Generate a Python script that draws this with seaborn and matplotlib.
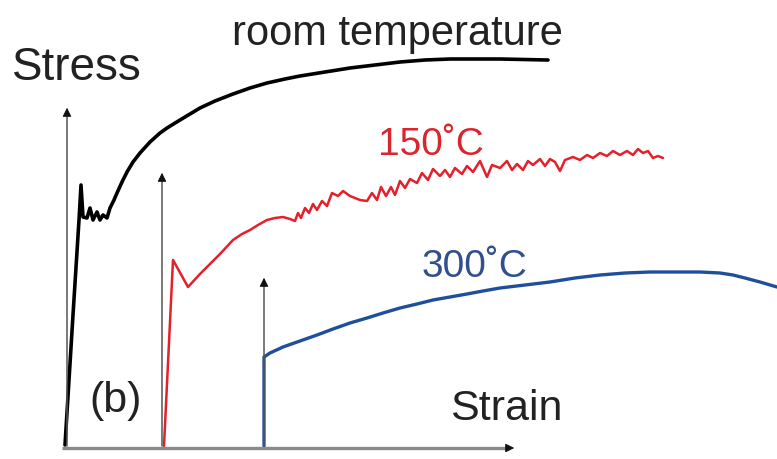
import matplotlib
matplotlib.use("Agg")
import matplotlib.pyplot as plt
import pandas as pd
import seaborn as sns

# schematic stress-strain curves (strain, stress in arbitrary units)
rt_strain = [65, 73, 79, 81, 83, 87, 90, 93, 97, 100, 103, 107, 110, 114, 117, 122, 127, 133,
             140, 150, 160, 167, 180, 190, 200, 215, 233, 250, 267, 285, 300, 325, 350, 375,
             400, 425, 450, 500, 548]
rt_stress = [14, 144, 239, 274, 242, 241, 251, 239, 247, 239, 244, 241, 251, 259, 266, 277, 287, 297,
             306, 317, 326, 331, 339, 345, 351, 358, 365, 371, 376, 380, 383, 387, 391, 394,
             397, 399, 400, 400, 399]

t150_strain = [164, 173, 188, 200, 210, 220, 233, 242, 250, 258, 267, 275, 283, 290, 295, 298,
               301, 305, 309, 313, 317, 322, 327, 332, 338, 343, 350, 360, 367, 372, 377, 381,
               386, 391, 395, 400, 405, 410, 417, 422, 428, 433, 440, 445, 450, 455, 462, 467,
               473, 480, 487, 492, 500, 507, 512, 517, 523, 528, 533, 540, 545, 550, 555, 560,
               565, 573, 580, 587, 593, 600, 607, 613, 620, 627, 633, 638, 643, 648, 653, 658, 663]
t150_stress = [13, 199, 172, 185, 195, 205, 219, 225, 229, 234, 239, 241, 242, 240, 238, 246,
               241, 251, 246, 255, 249, 258, 253, 266, 263, 268, 263, 259, 258, 266, 259, 272,
               263, 272, 264, 278, 271, 280, 276, 286, 279, 290, 283, 289, 282, 291, 285, 293,
               287, 298, 282, 294, 291, 298, 289, 295, 289, 298, 294, 300, 293, 300, 297, 288,
               299, 302, 299, 304, 301, 306, 303, 308, 304, 308, 304, 310, 306, 308, 301, 303, 301]

t300_strain = [264, 264, 270, 283, 300, 317, 333, 350, 367, 383, 400, 417, 433, 450, 467, 483,
               500, 525, 550, 575, 600, 625, 650, 675, 700, 720, 733, 745, 760, 777]
t300_stress = [13, 102, 106, 112, 118, 124, 130, 136, 141, 146, 151, 155, 159, 162, 165, 168,
               171, 174, 177, 181, 184, 186, 187, 187, 187, 186, 184, 181, 177, 172]

# origin arrows of each curve
arrow_strain = [67, 162, 264]
arrow_top = [354, 289, 184]
arrow_base = 13
axis_start, axis_end, axis_level = 62, 517, 11

labels = ["room temperature", "150\u02daC", "300\u02daC"]

sns.set_style("white")
plt.rcParams['font.family'] = ['Liberation Sans', 'DejaVu Sans']

fig = plt.figure(figsize=(7.77, 4.59), dpi=100)
ax = fig.add_axes([0, 0, 1, 1])

curves = [
    (rt_strain, rt_stress, "black", 2.6),
    (t150_strain, t150_stress, "#e3202b", 1.8),
    (t300_strain, t300_stress, "#1f4f9c", 2.4),
]
for xs, ys, col, lw in curves:
    df = pd.DataFrame({"strain": xs, "stress": ys})
    sns.lineplot(data=df, x="strain", y="stress", sort=False, estimator=None,
                 color=col, linewidth=lw, ax=ax)

# strain axis
ax.plot([axis_start, axis_end - 8], [axis_level, axis_level], color="#8a8a8a", lw=2.4,
        solid_capstyle="butt")
ax.annotate("", xy=(axis_end, axis_level), xytext=(axis_end - 12, axis_level),
            arrowprops=dict(arrowstyle="-|>", color="#111111", lw=0.8, mutation_scale=13))

# stress arrows
for xa, ya in zip(arrow_strain, arrow_top):
    ax.plot([xa, xa], [arrow_base, ya - 8], color="#555555", lw=1.1)
    ax.annotate("", xy=(xa, ya), xytext=(xa, ya - 12),
                arrowprops=dict(arrowstyle="-|>", color="#111111", lw=0.8, mutation_scale=13))

ax.text(12, 379, "Stress", fontsize=33, color="#222222", ha="left", va="baseline")
ax.text(450, 39, "Strain", fontsize=31, color="#222222", ha="left", va="baseline")
ax.text(116, 58, "(b)", fontsize=31, color="#222222", ha="center", va="center")
ax.text(232, 414, labels[0], fontsize=30, color="#222222", ha="left", va="baseline")
ax.text(378, 304, labels[1], fontsize=28, color="#d8262f", ha="left", va="baseline")
ax.text(422, 182, labels[2], fontsize=28, color="#2f4f8f", ha="left", va="baseline")

ax.set_xlim(0, 777)
ax.set_ylim(0, 459)
ax.axis("off")

fig.savefig("out.png", dpi=100)
